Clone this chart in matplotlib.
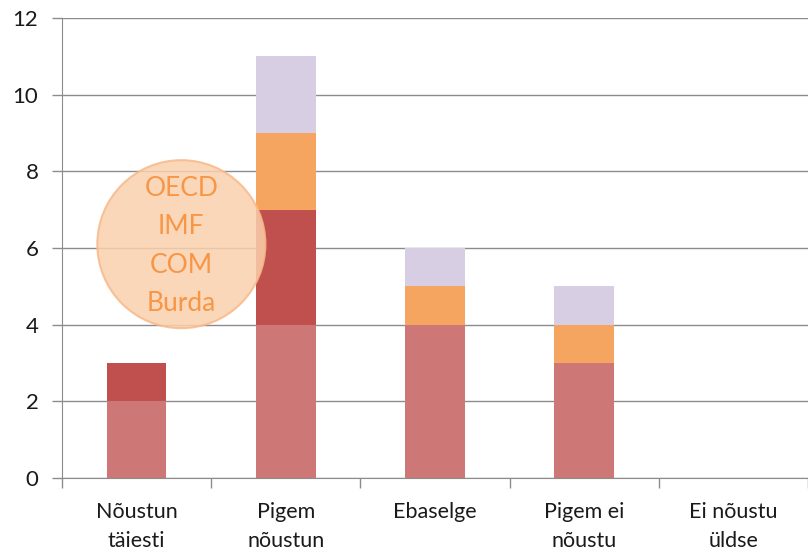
import numpy as np
import matplotlib
matplotlib.use("Agg")
import matplotlib.pyplot as plt
from matplotlib.patches import Ellipse

# data
categories = ["Nõustun\ntäiesti", "Pigem\nnõustun", "Ebaselge", "Pigem ei\nnõustu", "Ei nõustu\nüldse"]
oecd = [2, 4, 4, 3, 0]
imf = [1, 3, 0, 0, 0]
com = [0, 2, 1, 1, 0]
burda = [0, 2, 1, 1, 0]
series_names = ["OECD", "IMF", "COM", "Burda"]

colors = ["#CD7876", "#C0504D", "#F6A560", "#D8CEE3"]

plt.rcParams['font.family'] = ['Lato', 'DejaVu Sans']

fig = plt.figure(figsize=(8.08, 5.57), dpi=100)
ax = fig.add_axes([62 / 808, 1 - 478 / 557, 746 / 808, 460 / 557])

x = np.arange(len(categories))
bottom = np.zeros(len(categories))
for vals, c in zip([oecd, imf, com, burda], colors):
    vals = np.array(vals, dtype=float)
    ax.bar(x, vals, width=0.4, bottom=bottom, color=c, zorder=3)
    bottom += vals

ax.set_xlim(-0.5, -0.5 + 746 / 150)
ax.set_ylim(0, 12)
ax.set_yticks(range(0, 13, 2))
ax.yaxis.grid(True, color="#8c8c8c", linewidth=1.0, zorder=0)
ax.set_axisbelow(True)

for s in ["top", "right"]:
    ax.spines[s].set_visible(False)
ax.spines["left"].set_color("#8c8c8c")
ax.spines["bottom"].set_color("#8c8c8c")

ax.set_xticks(x)
ax.set_xticklabels(categories, fontsize=15.5, color="#1a1a1a", linespacing=1.6)
ax.set_xticks(np.arange(-0.5, 5, 1), minor=True)
ax.tick_params(axis="x", which="major", length=0, pad=17)
ax.tick_params(axis="x", which="minor", length=7, color="#8c8c8c", width=1)
ax.tick_params(axis="y", length=7, color="#8c8c8c", width=1, labelsize=16,
               labelcolor="#1a1a1a", pad=10)

# circle annotation with series names
circ = Ellipse((0.3, 6.1), 169 / 150, 168 / 38.33, facecolor="#FAD1AD",
               edgecolor="#F8B98A", linewidth=1.5, alpha=0.85, zorder=5)
ax.add_patch(circ)
ys = [7.55, 6.55, 5.55, 4.55]
for name, yv in zip(series_names, ys):
    ax.text(0.3, yv, name, ha="center", va="center", fontsize=19,
            color="#F79646", zorder=6)

fig.savefig("out.png", dpi=100)
